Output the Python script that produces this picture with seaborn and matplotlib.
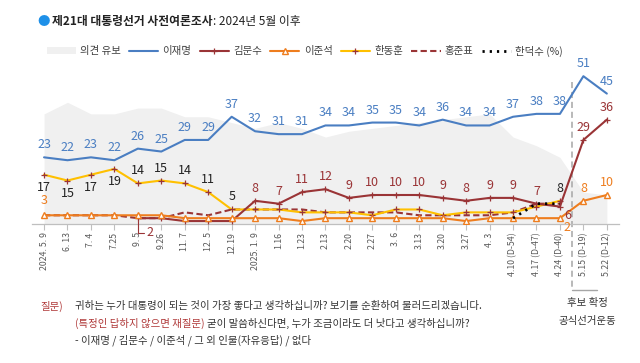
import numpy as np
import pandas as pd
import matplotlib
matplotlib.use("Agg")
import matplotlib.pyplot as plt
import seaborn as sns

nan = np.nan
dates = ["2024. 5. 9", "6. 13", "7. 4", "7.25", "9. 5", "9.26", "11. 7", "12. 5", "12.19",
         "2025. 1. 9", "1.16", "1.23", "2.13", "2.20", "2.27", "3. 6", "3.13", "3.20", "3.27",
         "4. 3", "4.10 (D-54)", "4.17 (D-47)", "4.24 (D-40)", "5.15 (D-19)", "5.22 (D-12)"]
undecided = [38, 42, 38, 38, 40, 40, 37, 37, 35, 33, 35, 33, 30, 32, 33, 34, 35, 36, 37, 38, 30, 27, 23, 11, 10]
lee_jm = [23, 22, 23, 22, 26, 25, 29, 29, 37, 32, 31, 31, 34, 34, 35, 35, 34, 36, 34, 34, 37, 38, 38, 51, 45]
kim_ms = [nan, nan, nan, nan, 2, 2, 1, 1, 1, 8, 7, 11, 12, 9, 10, 10, 10, 9, 8, 9, 9, 7, 6, 29, 36]
lee_js = [3, 3, 3, 3, 3, 3, 2, 2, 2, 2, 2, 1, 2, 2, 2, 2, 2, 2, 1, 2, 2, 2, 2, 8, 10]
han_dh = [17, 15, 17, 19, 14, 15, 14, 11, 5, 5, 5, 4, 4, 4, 3, 5, 5, 3, 4, 4, 4, 6, 8, nan, nan]
hong_jp = [3, 3, 3, 3, 2, 2, 4, 3, 5, 5, 5, 5, 4, 4, 4, 4, 3, 3, 3, 3, 4, 7, 7, nan, nan]
han_ds = [nan] * 20 + [2, 7, 7, nan, nan]

C_BLUE = "#4A7EC2"
C_RED = "#9A3436"
C_ORANGE = "#EE7D1E"
C_YELLOW = "#FFC000"
C_GRAY = "#F0F0F0"

sns.set_theme(style="white")
plt.rcParams['font.family'] = ['Noto Sans CJK KR', 'DejaVu Sans']

fig = plt.figure(figsize=(6.4, 3.63), dpi=100)
ax = fig.add_axes([0.0505, 0.383, 0.916, 0.439])

x = np.arange(len(dates))
df = pd.DataFrame({"x": x, "undecided": undecided, "lee_jm": lee_jm, "kim_ms": kim_ms,
                   "lee_js": lee_js, "han_dh": han_dh, "hong_jp": hong_jp, "han_ds": han_ds})

ax.fill_between(df["x"], 0, df["undecided"], color=C_GRAY, lw=0, label="의견 유보", zorder=0)

sns.lineplot(data=df, x="x", y="lee_jm", ax=ax, color=C_BLUE, lw=1.5, label="이재명", zorder=5)
sns.lineplot(data=df, x="x", y="kim_ms", ax=ax, color=C_RED, lw=1.5, marker="+", markersize=5,
             markeredgewidth=0.9, markeredgecolor=C_RED, label="김문수", zorder=5)
sns.lineplot(data=df, x="x", y="lee_js", ax=ax, color=C_ORANGE, lw=1.5, marker="^", markersize=4.5,
             markerfacecolor="white", markeredgecolor=C_ORANGE, markeredgewidth=1.0, label="이준석", zorder=6)
sns.lineplot(data=df, x="x", y="han_dh", ax=ax, color=C_YELLOW, lw=1.5, marker="+", markersize=5,
             markeredgewidth=0.9, markeredgecolor=C_RED, label="한동훈", zorder=4)
sns.lineplot(data=df, x="x", y="hong_jp", ax=ax, color=C_RED, lw=1.5, linestyle=(0, (3, 1.6)),
             label="홍준표", zorder=3)
sns.lineplot(data=df, x="x", y="han_ds", ax=ax, color="black", lw=2.0, linestyle=(0, (0.8, 1.8)),
             label="한덕수 (%)", zorder=7)

ax.set_xlim(-0.5, len(dates) - 0.5)
ax.set_ylim(0, 55)
ax.set_xlabel("")
ax.set_ylabel("")
ax.set_yticks([])
ax.set_xticks(x)
ax.set_xticklabels(dates, rotation=90, fontsize=6.3, color="#595959")
ax.tick_params(axis="x", length=4, width=0.8, color="#BFBFBF", pad=2, bottom=True)
for s in ["top", "right", "left"]:
    ax.spines[s].set_visible(False)
ax.spines["bottom"].set_color("#BFBFBF")
ax.spines["bottom"].set_linewidth(0.9)
ax.grid(False)

FS = 9
def lab(i, v, txt, color, dx=0, dy=5, ha="center", va="bottom"):
    ax.annotate(txt, (i, v), xytext=(dx, dy), textcoords="offset pixels", ha=ha, va=va,
                color=color, fontsize=FS, zorder=10)

for i, v in enumerate(lee_jm):
    lab(i, v, f"{v}", C_BLUE, dy=6)

for i, v in enumerate(kim_ms):
    if i >= 9 and not np.isnan(v):
        if i == 22:
            lab(i, v, f"{v}", C_RED, dx=4, dy=-2, ha="left", va="top")
        else:
            lab(i, v, f"{v}", C_RED, dy=6)
ax.annotate(f"{kim_ms[4]}", (4, kim_ms[4]), xytext=(9, -8), textcoords="offset pixels",
            ha="left", va="top", color=C_RED, fontsize=FS,
            arrowprops=dict(arrowstyle="-", color=C_RED, lw=0.8, shrinkA=0, shrinkB=2,
                            connectionstyle="angle,angleA=0,angleB=90,rad=0"),
            annotation_clip=False)

for i, v in enumerate(han_dh):
    if np.isnan(v):
        continue
    if i <= 3:
        lab(i, v, f"{v}", "#222222", dy=-6, va="top")
    elif i <= 8 or i == 22:
        lab(i, v, f"{v}", "#222222", dy=6)

lab(0, lee_js[0], f"{lee_js[0]}", C_ORANGE, dy=8)
lab(22, lee_js[22], f"{lee_js[22]}", C_ORANGE, dx=4, dy=-3, ha="left", va="top")
lab(23, lee_js[23], f"{lee_js[23]}", C_ORANGE, dy=6)
lab(24, lee_js[24], f"{lee_js[24]}", C_ORANGE, dy=6)

# separator bracket
ax.plot([22.5, 22.5], [49, -22.8], color="#A6A6A6", lw=1.1, linestyle=(0, (4, 2.5)), clip_on=False, zorder=2)
ax.plot([22.5, 23.6], [-22.8, -22.8], color="#A6A6A6", lw=1.0, clip_on=False, zorder=2)
fig.text(587 / 640, 1 - 303 / 363, "후보 확정", ha="center", va="center", fontsize=7.5, color="#333333")
fig.text(587 / 640, 1 - 321 / 363, "공식선거운동", ha="center", va="center", fontsize=7.5, color="#333333")

# legend
handles, labels = ax.get_legend_handles_labels()
order = ["의견 유보", "이재명", "김문수", "이준석", "한동훈", "홍준표", "한덕수 (%)"]
hmap = dict(zip(labels, handles))
ax.legend([hmap[k] for k in order], order, loc="center left", ncol=7, frameon=False, fontsize=7.5,
          handlelength=2.8, columnspacing=0.8, handletextpad=0.4, labelcolor="#404040")
leg = ax.get_legend()
leg.set_bbox_to_anchor((45 / 640 - 0.012, 1 - 51 / 363), transform=fig.transFigure)

# title
fig.text(44 / 640, 1 - 22 / 363, "●", color="#1E90E8", fontsize=9, ha="center", va="center")
t1 = fig.text(52 / 640, 1 - 22 / 363, "제21대 대통령선거 사전여론조사", fontsize=8.5, fontweight="bold",
              color="#222222", ha="left", va="center")
fig.canvas.draw()
bb = t1.get_window_extent()
x_end = bb.x1 / fig.bbox.width
fig.text(x_end, 1 - 22 / 363, ": 2024년 5월 이후", fontsize=8.5, color="#222222", ha="left", va="center")

# question text
qy = [306, 323, 340]
fig.text(40 / 640, 1 - qy[0] / 363, "질문)", fontsize=7.5, color="#B03A3A", ha="left", va="center")
fig.text(75 / 640, 1 - qy[0] / 363, "귀하는 누가 대통령이 되는 것이 가장 좋다고 생각하십니까? 보기를 순환하여 불러드리겠습니다.",
         fontsize=7.5, color="#333333", ha="left", va="center")
t2 = fig.text(75 / 640, 1 - qy[1] / 363, "(특정인 답하지 않으면 재질문)", fontsize=7.5, color="#B03A3A",
              ha="left", va="center")
fig.canvas.draw()
bb2 = t2.get_window_extent()
fig.text(bb2.x1 / fig.bbox.width + 0.004, 1 - qy[1] / 363, "굳이 말씀하신다면, 누가 조금이라도 더 낫다고 생각하십니까?",
         fontsize=7.5, color="#333333", ha="left", va="center")
fig.text(75 / 640, 1 - qy[2] / 363, "- 이재명 / 김문수 / 이준석 / 그 외 인물(자유응답) / 없다",
         fontsize=7.5, color="#333333", ha="left", va="center")

fig.savefig("out.png", dpi=100)
